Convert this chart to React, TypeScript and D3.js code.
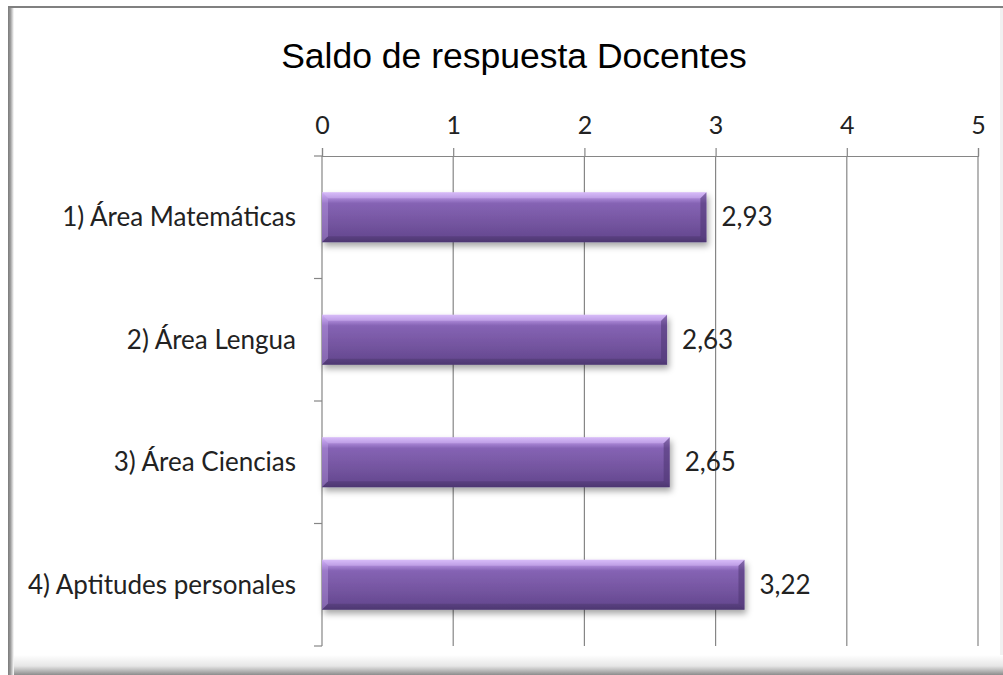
import { useEffect, useRef } from 'react'
import * as d3 from 'd3'

const categories = ['1) Área Matemáticas', '2) Área Lengua', '3) Área Ciencias', '4) Aptitudes personales']
const values = [2.93, 2.63, 2.65, 3.22]
const xTicks = [0, 1, 2, 3, 4, 5]
const title = 'Saldo de respuesta Docentes'

const App = () => {
  const svgRef = useRef<SVGSVGElement>(null)

  useEffect(() => {
    const width = 1003
    const height = 675
    const plot = { left: 322, right: 978, top: 156, bottom: 646 }
    const labelFont = 'Lato, "Open Sans", sans-serif'

    const svg = d3.select(svgRef.current)
    svg.selectAll('*').remove()
    svg.attr('width', width).attr('height', height)

    const defs = svg.append('defs')

    const barGrad = defs.append('linearGradient')
      .attr('id', 'barGrad').attr('x1', 0).attr('y1', 0).attr('x2', 0).attr('y2', 1)
    barGrad.append('stop').attr('offset', '0%').attr('stop-color', '#d2b4f6')
    barGrad.append('stop').attr('offset', '10%').attr('stop-color', '#b08ddc')
    barGrad.append('stop').attr('offset', '22%').attr('stop-color', '#8563b4')
    barGrad.append('stop').attr('offset', '55%').attr('stop-color', '#7757a3')
    barGrad.append('stop').attr('offset', '88%').attr('stop-color', '#674a92')
    barGrad.append('stop').attr('offset', '100%').attr('stop-color', '#553c7c')

    const bottomShade = defs.append('linearGradient')
      .attr('id', 'bottomShade').attr('x1', 0).attr('y1', 0).attr('x2', 0).attr('y2', 1)
    bottomShade.append('stop').attr('offset', '0%').attr('stop-color', '#ffffff')
    bottomShade.append('stop').attr('offset', '55%').attr('stop-color', '#e6e6e6')
    bottomShade.append('stop').attr('offset', '80%').attr('stop-color', '#b5b5b5')
    bottomShade.append('stop').attr('offset', '100%').attr('stop-color', '#8c8c8c')

    const leftShade = defs.append('linearGradient')
      .attr('id', 'leftShade').attr('x1', 0).attr('y1', 0).attr('x2', 1).attr('y2', 0)
    leftShade.append('stop').attr('offset', '0%').attr('stop-color', '#7a7a7a')
    leftShade.append('stop').attr('offset', '40%').attr('stop-color', '#9a9a9a')
    leftShade.append('stop').attr('offset', '100%').attr('stop-color', '#ffffff')

    const filter = defs.append('filter').attr('id', 'barShadow')
      .attr('x', '-5%').attr('y', '-20%').attr('width', '112%').attr('height', '160%')
    filter.append('feDropShadow')
      .attr('dx', 2).attr('dy', 4).attr('stdDeviation', 3)
      .attr('flood-color', '#000').attr('flood-opacity', 0.35)

    // frame
    svg.append('rect').attr('x', 0).attr('y', 0).attr('width', width).attr('height', height).attr('fill', '#fff')
    svg.append('rect').attr('x', 1000).attr('y', 8).attr('width', 3).attr('height', 667).attr('fill', '#f1f1f1')
    svg.append('rect').attr('x', 9).attr('y', 655).attr('width', 994).attr('height', 20).attr('fill', 'url(#bottomShade)')
    svg.append('rect').attr('x', 8).attr('y', 7).attr('width', 6).attr('height', 668).attr('fill', 'url(#leftShade)')
    svg.append('line').attr('x1', 8).attr('x2', 1003).attr('y1', 7).attr('y2', 7)
      .attr('stroke', '#808080').attr('stroke-width', 2)

    const x = d3.scaleLinear().domain([0, 5]).range([plot.left, plot.right])
    const y = d3.scaleBand<string>().domain(categories).range([plot.top, plot.bottom])
      .paddingInner(0.592).paddingOuter(0.296)

    // gridlines
    svg.append('g').selectAll('line').data(xTicks.slice(1)).join('line')
      .attr('x1', d => x(d)).attr('x2', d => x(d))
      .attr('y1', plot.top).attr('y2', plot.bottom)
      .attr('stroke', '#868686').attr('stroke-width', 1.2)

    // top axis
    const top = svg.append('g').attr('transform', `translate(0,${plot.top})`)
      .call(d3.axisTop(x).tickValues(xTicks).tickSize(8).tickPadding(14).tickFormat(d => String(d)))
    top.select('.domain').attr('stroke', '#868686').attr('stroke-width', 1.2)
    top.selectAll('.tick line').attr('stroke', '#868686').attr('stroke-width', 1.2)
    top.selectAll('.tick text').attr('fill', '#222').style('font-family', labelFont).style('font-size', '25px')

    // left axis with band-boundary ticks
    const step = y.step()
    const bounds = d3.range(categories.length + 1).map(i => plot.top + i * step)
    svg.append('line').attr('x1', x(0)).attr('x2', x(0)).attr('y1', plot.top).attr('y2', plot.bottom)
      .attr('stroke', '#868686').attr('stroke-width', 1.2)
    svg.append('g').selectAll('line').data(bounds).join('line')
      .attr('x1', x(0) - 8).attr('x2', x(0)).attr('y1', d => d).attr('y2', d => d)
      .attr('stroke', '#868686').attr('stroke-width', 1.2)

    svg.append('g').selectAll('text').data(categories).join('text')
      .attr('x', x(0) - 26)
      .attr('y', d => (y(d) as number) + y.bandwidth() / 2)
      .attr('dy', '0.35em')
      .attr('text-anchor', 'end')
      .attr('fill', '#222')
      .style('font-family', labelFont).style('font-size', '26px')
      .text(d => d)

    // bars
    const bars = svg.append('g')
    categories.forEach((c, i) => {
      const x0 = x(0)
      const x1 = x(values[i])
      const y0 = y(c) as number
      const h = y.bandwidth()
      const b = 6
      const g = bars.append('g')
      g.append('rect').attr('x', x0).attr('y', y0).attr('width', x1 - x0).attr('height', h)
        .attr('fill', 'url(#barGrad)').attr('filter', 'url(#barShadow)')
      // bevel ends
      g.append('polygon')
        .attr('points', `${x1 - b},${y0 + b} ${x1},${y0} ${x1},${y0 + h} ${x1 - b},${y0 + h - b}`)
        .attr('fill', '#4f3772').attr('opacity', 0.55)
      g.append('polygon')
        .attr('points', `${x0},${y0} ${x0 + b},${y0 + b} ${x0 + b},${y0 + h - b} ${x0},${y0 + h}`)
        .attr('fill', '#c9a8f0').attr('opacity', 0.35)
      g.append('polygon')
        .attr('points', `${x0},${y0} ${x1},${y0} ${x1 - b},${y0 + b} ${x0 + b},${y0 + b}`)
        .attr('fill', '#e2ccff').attr('opacity', 0.35)
      g.append('polygon')
        .attr('points', `${x0 + b},${y0 + h - b} ${x1 - b},${y0 + h - b} ${x1},${y0 + h} ${x0},${y0 + h}`)
        .attr('fill', '#3d2a5a').attr('opacity', 0.3)
    })

    // value labels
    svg.append('g').selectAll('text').data(categories).join('text')
      .attr('x', (d, i) => x(values[i]) + 15)
      .attr('y', d => (y(d) as number) + y.bandwidth() / 2)
      .attr('dy', '0.35em')
      .attr('fill', '#222')
      .style('font-family', labelFont).style('font-size', '26px')
      .text((d, i) => values[i].toFixed(2).replace('.', ','))

    svg.append('text')
      .attr('x', 514).attr('y', 68)
      .attr('text-anchor', 'middle')
      .attr('fill', '#000')
      .style('font-family', '"Liberation Sans", Arial, sans-serif').style('font-size', '35.5px')
      .text(title)
  }, [])

  return (
    <div style={{ position: 'absolute', left: 0, top: 0 }}>
      <svg ref={svgRef}></svg>
    </div>
  )
}

export default App
